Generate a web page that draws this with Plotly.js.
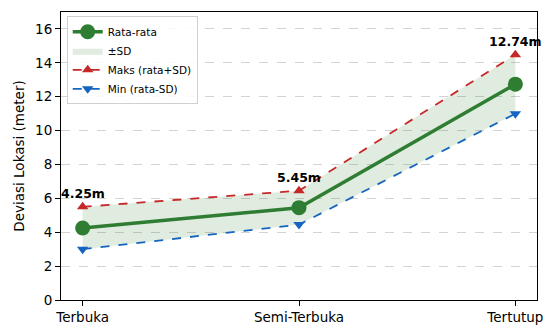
<!DOCTYPE html>
<html><head><meta charset="utf-8">
<script src="https://cdn.plot.ly/plotly-3.0.1.min.js"></script>
<style>body{margin:0;}#chart{width:545px;height:329px;}</style>
</head><body><div id="chart"></div>
<script>
const categories = ["Terbuka", "Semi-Terbuka", "Tertutup"];
const meanVals = [4.25, 5.45, 12.74];
const maxVals = [5.5, 6.45, 14.48];
const minVals = [3.0, 4.45, 11.0];
const labels = ["4.25m", "5.45m", "12.74m"];

const xIdx = categories.map((c, i) => i);
const F = "DejaVu Sans, sans-serif";

const band = {
  x: xIdx.concat(xIdx.slice().reverse()),
  y: maxVals.concat(minVals.slice().reverse()),
  fill: "toself", fillcolor: "rgba(46,125,50,0.15)",
  line: {width: 0, color: "rgba(46,125,50,0.15)"},
  mode: "lines", name: "±SD", legendrank: 2, hoverinfo: "skip"
};
const maxT = {
  x: xIdx, y: maxVals, mode: "lines+markers", name: "Maks (rata+SD)", legendrank: 3,
  line: {color: "#c62828", width: 1.8, dash: "dash"},
  marker: {symbol: "triangle-up", size: 10, color: "#c62828"}
};
const minT = {
  x: xIdx, y: minVals, mode: "lines+markers", name: "Min (rata-SD)", legendrank: 4,
  line: {color: "#1565c0", width: 1.8, dash: "dash"},
  marker: {symbol: "triangle-down", size: 10, color: "#1565c0"}
};
const meanT = {
  x: xIdx, y: meanVals, mode: "lines+markers", name: "Rata-rata", legendrank: 1,
  line: {color: "#2e7d32", width: 3.5},
  marker: {symbol: "circle", size: 15, color: "#2e7d32"}
};

const annotations = labels.map((t, i) => ({
  x: xIdx[i], y: maxVals[i], text: "<b>" + t + "</b>", showarrow: false,
  yanchor: "bottom", yshift: 4, font: {family: F, size: 12.5, color: "#000"}
}));

const layout = {
  width: 545, height: 329,
  margin: {l: 61, r: 8, t: 12, b: 29},
  paper_bgcolor: "#fff", plot_bgcolor: "#fff",
  font: {family: F, size: 13.5, color: "#000"},
  showlegend: true,
  legend: {x: 0.012, y: 0.985, xanchor: "left", yanchor: "top",
    bgcolor: "rgba(255,255,255,0.85)", bordercolor: "#d0d0d0", borderwidth: 1,
    font: {family: F, size: 10.5}, tracegroupgap: 0, itemwidth: 30},
  xaxis: {
    range: [-0.1, 2.1], tickmode: "array", tickvals: xIdx, ticktext: categories,
    showgrid: false, zeroline: false, showline: true, mirror: true,
    linecolor: "#000", linewidth: 1, ticks: "outside", ticklen: 5, tickcolor: "#000",
    tickfont: {family: F, size: 13.5}
  },
  yaxis: {
    range: [0, 17], dtick: 2, tick0: 0,
    showgrid: true, gridcolor: "#d3d3d3", griddash: "dash", gridwidth: 1,
    zeroline: false, showline: true, mirror: true,
    linecolor: "#000", linewidth: 1, ticks: "outside", ticklen: 5, tickcolor: "#000",
    tickfont: {family: F, size: 13.5},
    title: {text: "Deviasi Lokasi (meter)", font: {family: F, size: 13.5}, standoff: 7}
  },
  annotations: annotations
};

Plotly.newPlot("chart", [band, maxT, minT, meanT], layout, {displayModeBar: false, staticPlot: true});
</script></body></html>
